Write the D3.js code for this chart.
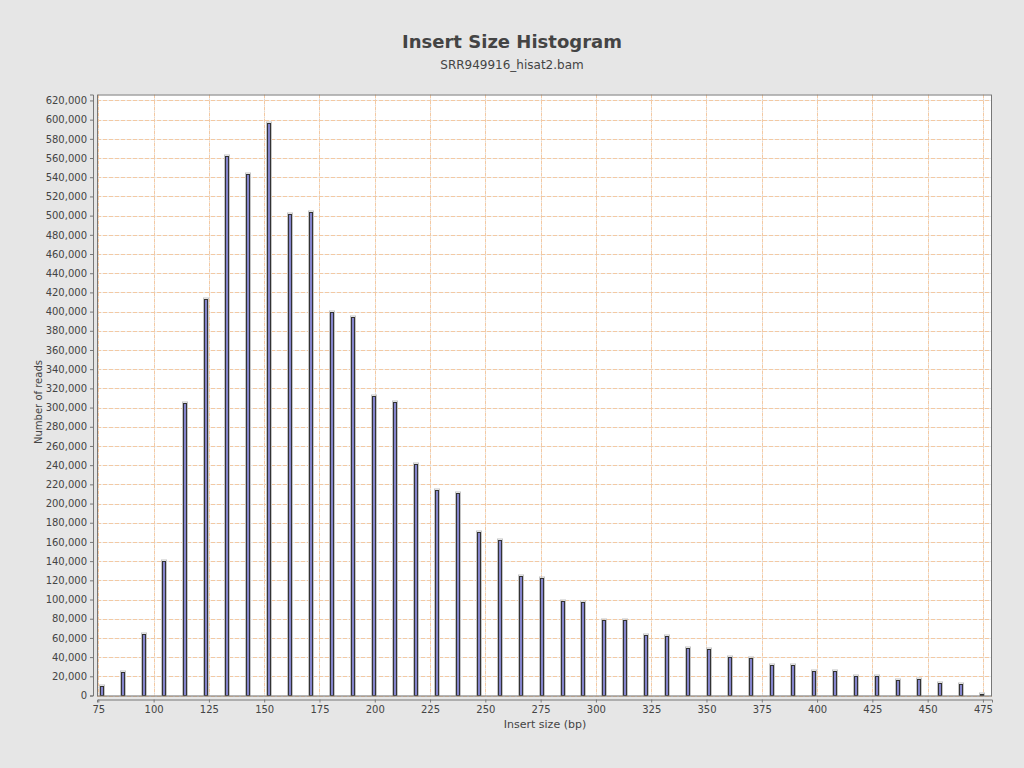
<!DOCTYPE html>
<html>
<head>
<meta charset="utf-8">
<script src="https://cdn.jsdelivr.net/npm/d3@7"></script>
<style>
  html, body { margin: 0; padding: 0; background: #e6e6e6; }
  svg { display: block; font-family: "DejaVu Sans", sans-serif; }
</style>
</head>
<body>
<svg id="chart" width="1024" height="768"></svg>
<script>
// ---- data ----
const titleText = "Insert Size Histogram";
const subtitleText = "SRR949916_hisat2.bam";
const xLabel = "Insert size (bp)";
const yLabel = "Number of reads";

const insertSizes = [76.0, 85.5, 95.0, 104.4, 113.9, 123.4, 132.9, 142.3, 151.8, 161.3,
  170.8, 180.2, 189.7, 199.2, 208.7, 218.1, 227.6, 237.1, 246.6, 256.0,
  265.5, 275.0, 284.5, 293.9, 303.4, 312.9, 322.4, 331.8, 341.3, 350.8,
  360.3, 369.7, 379.2, 388.7, 398.2, 407.7, 417.1, 426.6, 436.1, 445.6,
  455.0, 464.5, 474.0];
const readCounts = [10000, 24600, 63900, 139900, 304900, 413000, 561900, 543200, 596300, 501500,
  503600, 399400, 394500, 311900, 305600, 241000, 213900, 211100, 170500, 161800,
  124300, 122200, 98300, 96900, 78500, 78500, 63200, 62100, 49600, 48200,
  39900, 38900, 31600, 31600, 25300, 25300, 20100, 20100, 15900, 17000,
  12800, 11800, 1400];
const xTicks = [75, 100, 125, 150, 175, 200, 225, 250, 275, 300, 325, 350, 375, 400, 425, 450, 475];
const yTicks = [0, 20000, 40000, 60000, 80000, 100000, 120000, 140000, 160000, 180000, 200000,
  220000, 240000, 260000, 280000, 300000, 320000, 340000, 360000, 380000, 400000, 420000,
  440000, 460000, 480000, 500000, 520000, 540000, 560000, 580000, 600000, 620000];
const xDomain = [74.4, 479.1];
const yDomain = [0, 626200];

// ---- layout ----
const svg = d3.select("#chart");
const plot = { left: 97, top: 94.5, right: 992, bottom: 695.5 };

const x = d3.scaleLinear().domain(xDomain).range([plot.left, plot.right]);
const y = d3.scaleLinear().domain(yDomain).range([plot.bottom, plot.top]);

// title
svg.append("text").attr("x", 512).attr("y", 48).attr("text-anchor", "middle")
  .attr("font-size", 18).attr("font-weight", "bold").attr("fill", "#444")
  .text(titleText);
svg.append("text").attr("x", 512).attr("y", 69).attr("text-anchor", "middle")
  .attr("font-size", 12).attr("fill", "#444")
  .text(subtitleText);

// plot background
svg.append("rect").attr("x", plot.left).attr("y", plot.top)
  .attr("width", plot.right - plot.left).attr("height", plot.bottom - plot.top)
  .attr("fill", "#ffffff");

// gridlines
const grid = svg.append("g");
yTicks.forEach(t => {
  const yy = Math.round(y(t)) + 0.5;
  grid.append("line").attr("x1", plot.left).attr("x2", plot.right).attr("y1", yy).attr("y2", yy)
    .attr("stroke", "#d8d8d8").attr("stroke-width", 1).attr("stroke-dasharray", "1,5").attr("stroke-dashoffset", -4.5);
  grid.append("line").attr("x1", plot.left).attr("x2", plot.right).attr("y1", yy).attr("y2", yy)
    .attr("stroke", "#f3c9a3").attr("stroke-width", 1).attr("stroke-dasharray", "4,2");
});
xTicks.forEach(t => {
  const xx = Math.round(x(t)) + 0.5;
  grid.append("line").attr("y1", plot.top).attr("y2", plot.bottom).attr("x1", xx).attr("x2", xx)
    .attr("stroke", "#d8d8d8").attr("stroke-width", 1).attr("stroke-dasharray", "1,5").attr("stroke-dashoffset", -4.5);
  grid.append("line").attr("y1", plot.top).attr("y2", plot.bottom).attr("x1", xx).attr("x2", xx)
    .attr("stroke", "#f3c9a3").attr("stroke-width", 1).attr("stroke-dasharray", "4,2");
});

// bars
const data = insertSizes.map((s, i) => ({ s, c: readCounts[i] }));
const barW = 4;
const bars = svg.append("g");
bars.selectAll("rect.halo").data(data).join("rect").attr("class", "halo")
  .attr("x", d => Math.round(x(d.s)) - barW / 2 + 0.5)
  .attr("y", d => Math.round(y(d.c)) - 1)
  .attr("width", barW + 1)
  .attr("height", d => plot.bottom - Math.round(y(d.c)) + 1)
  .attr("fill", "none").attr("stroke", "#c4c4c4").attr("stroke-width", 1);
bars.selectAll("rect.bar").data(data).join("rect").attr("class", "bar")
  .attr("x", d => Math.round(x(d.s)) - barW / 2 + 1.5)
  .attr("y", d => Math.round(y(d.c)) + 0.5)
  .attr("width", barW - 1)
  .attr("height", d => plot.bottom - Math.round(y(d.c)) - 0.5)
  .attr("fill", "#8484cc").attr("stroke", "#333").attr("stroke-width", 1);

// plot border
svg.append("rect").attr("x", plot.left + 0.5).attr("y", plot.top + 0.5)
  .attr("width", plot.right - plot.left - 1).attr("height", plot.bottom - plot.top)
  .attr("fill", "none").attr("stroke", "#777").attr("stroke-width", 1);

// axes
const yAxis = d3.axisLeft(y).tickValues(yTicks).tickSize(3).tickPadding(3)
  .tickFormat(d3.format(","));
const gy = svg.append("g").attr("transform", `translate(${plot.left - 4},0)`).call(yAxis);
const xAxis = d3.axisBottom(x).tickValues(xTicks).tickSize(3).tickPadding(3)
  .tickFormat(d3.format("d"));
const gx = svg.append("g").attr("transform", `translate(0,${plot.bottom + 4})`).call(xAxis);
[gx, gy].forEach(g => {
  g.selectAll("text").attr("font-size", 10).attr("fill", "#444").attr("font-family", "DejaVu Sans, sans-serif");
  g.selectAll("line").attr("stroke", "#777");
  g.select(".domain").attr("stroke", "#777");
});

// axis labels
svg.append("text").attr("x", 545).attr("y", 728)
  .attr("text-anchor", "middle").attr("font-size", 11).attr("fill", "#444").text(xLabel);
svg.append("text").attr("transform", `translate(42,402) rotate(-90)`)
  .attr("text-anchor", "middle").attr("font-size", 10).attr("fill", "#444").text(yLabel);
</script>
</body>
</html>
